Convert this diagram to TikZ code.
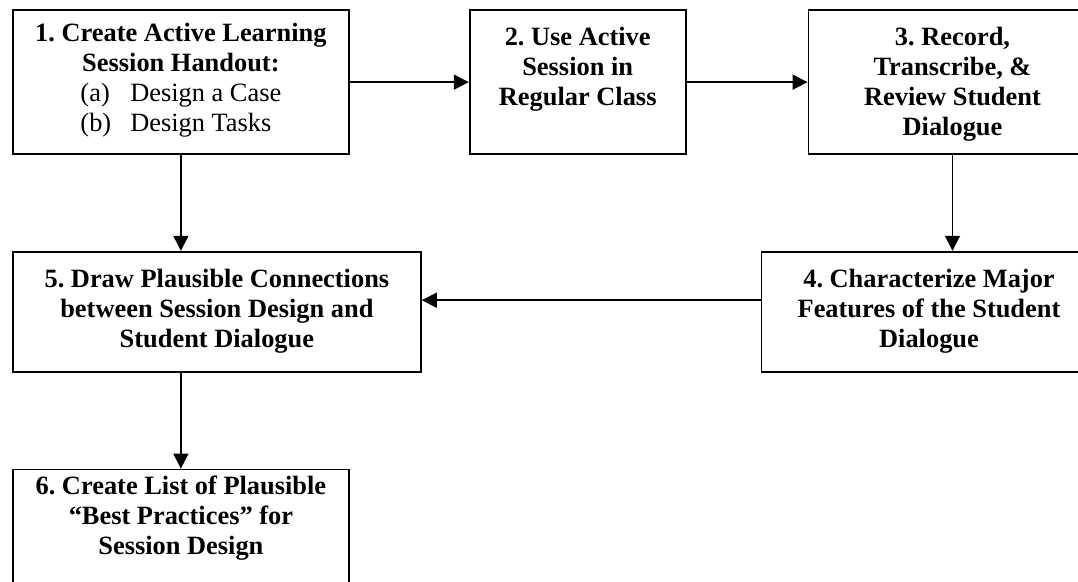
\documentclass[tikz,border=0pt]{standalone}
\usepackage{fontspec}
\setmainfont{Liberation Serif}
\usetikzlibrary{arrows.meta,positioning}
\frenchspacing

\begin{document}
\begin{tikzpicture}[node distance=48pt and 60pt,>={Triangle[length=7.5pt,width=7.5pt]},line width=0.75pt, every node/.style={font=\fontsize{13.2}{15}\selectfont\bfseries}]
\tikzstyle{blk}=[draw, line width=0.9pt, inner sep=0pt, align=center, minimum height=71.75pt]
\path[use as bounding box] (0,0) rectangle (539pt,-291pt);
\clip (0,0) rectangle (539pt,-291pt);
\node[blk,minimum width=168pt,anchor=north west] (hand) at (6pt,-4.75pt) {1. Create Active Learning\\Session Handout:\\{\mdseries\begin{tabular}[t]{@{}l@{\hspace{9.5pt}}l@{}}(a) & Design a Case\\(b) & Design Tasks\end{tabular}}};
\node[blk,minimum width=108pt,right=59.5pt of hand,text depth=16pt] (use) {2. Use Active\\Session in\\Regular Class};
\node[blk,minimum width=144pt,right=60.5pt of use,text depth=1pt] (rec) {3. Record,\\Transcribe, \&\\Review Student\\Dialogue};
\node[blk,minimum width=204pt,minimum height=60pt,below right=48pt and 0pt of hand.south west] (conn) {5. Draw Plausible Connections\\between Session Design and\\Student Dialogue};
\node[blk,minimum width=167.5pt,minimum height=60pt,below left=48pt and 0pt of rec.south east] (feat) {4. Characterize Major\\Features of the Student\\Dialogue};
\node[blk,minimum width=168pt,minimum height=64pt,below right=48pt and 0pt of conn.south west,text depth=18pt] (best) {6. Create List of Plausible\\“Best Practices” for\\Session Design};
\draw[->] (hand) -- (use);
\draw[->] (use) -- (rec);
\draw[->] (rec.south) -- (rec.south |- feat.north);
\draw[->] ([yshift=5.75pt]feat.west) -- ([yshift=5.75pt]conn.east);
\draw[->] (hand.south) -- (hand.south |- conn.north);
\draw[->] (conn.south -| best.north) -- (best.north);
\end{tikzpicture}
\end{document}
